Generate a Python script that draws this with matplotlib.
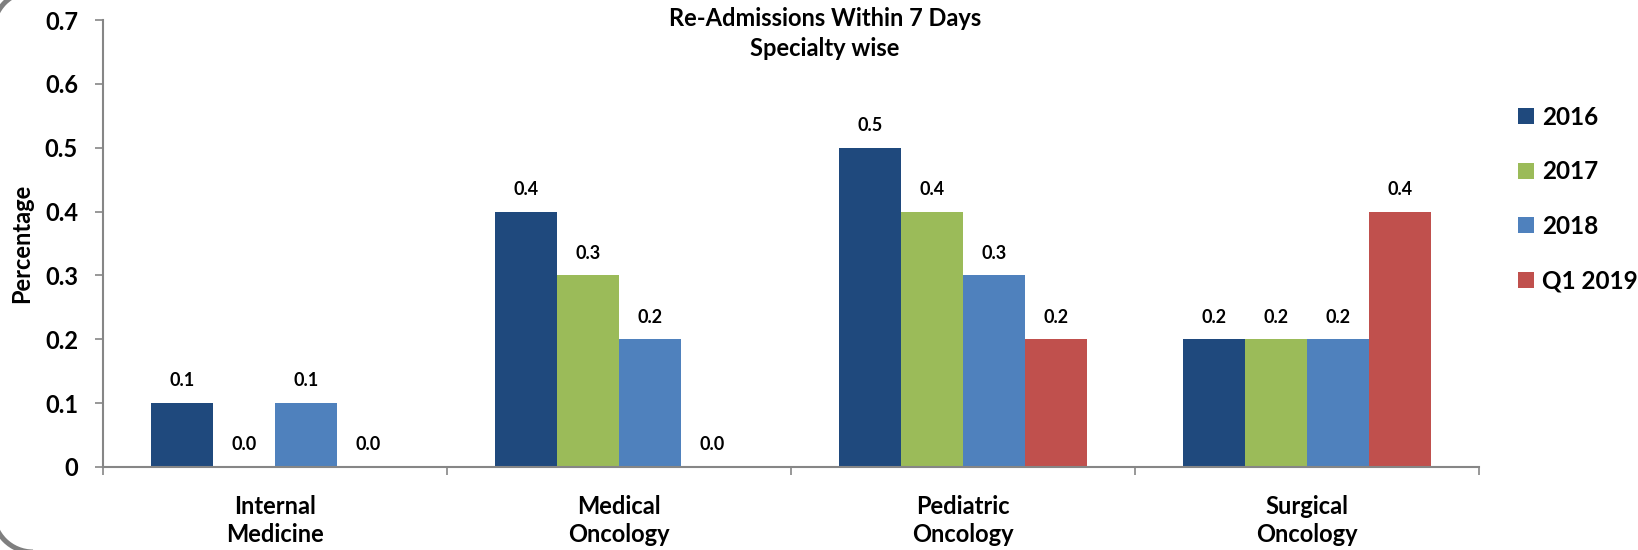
import matplotlib
matplotlib.use("Agg")
import matplotlib.pyplot as plt
import numpy as np
from matplotlib.patches import Arc

plt.rcParams['font.family'] = ['Lato', 'DejaVu Sans']
plt.rcParams['font.weight'] = 'bold'

categories = ["Internal\nMedicine", "Medical\nOncology", "Pediatric\nOncology", "Surgical\nOncology"]
series_names = ["2016", "2017", "2018", "Q1 2019"]
v2016 = [0.1, 0.4, 0.5, 0.2]
v2017 = [0.0, 0.3, 0.4, 0.2]
v2018 = [0.1, 0.2, 0.3, 0.2]
vq12019 = [0.0, 0.0, 0.2, 0.4]
colors = ["#1F497D", "#9BBB59", "#4F81BD", "#C0504D"]
yticks = [0, 0.1, 0.2, 0.3, 0.4, 0.5, 0.6, 0.7]
ytick_labels = ["0", "0.1", "0.2", "0.3", "0.4", "0.5", "0.6", "0.7"]

W, H, DPI = 1638, 550, 100
fig = plt.figure(figsize=(W / DPI, H / DPI), dpi=DPI)

# overlay for the partially visible rounded border (pixel coordinates, y downwards)
bg = fig.add_axes([0, 0, 1, 1], zorder=-1)
bg.set_xlim(0, W)
bg.set_ylim(H, 0)
bg.axis('off')
r = 40
bg.add_patch(Arc((33, 31), 2 * r, 2 * r, theta1=180, theta2=270, color='#7F7F7F', lw=3.6))
bg.add_patch(Arc((33, 512), 2 * r, 2 * r, theta1=90, theta2=180, color='#7F7F7F', lw=3.6))

ax = fig.add_axes([103 / W, 1 - 467 / H, (1479 - 103) / W, (467 - 20) / H])
ax.patch.set_alpha(0)

series = [v2016, v2017, v2018, vq12019]
bw = 62 / 344
x = np.arange(len(categories))
for i, (vals, name, c) in enumerate(zip(series, series_names, colors)):
    pos = x - 2 * bw + (i + 0.5) * bw
    ax.bar(pos, vals, width=bw, color=c, label=name, edgecolor='none')
    for xp, v in zip(pos, vals):
        ax.annotate(f"{v:.1f}", (xp, v), xytext=(0, 16), textcoords='offset points',
                    ha='center', va='center', fontsize=13, fontweight='bold')

ax.set_xlim(-0.5, len(categories) - 0.5)
ax.set_ylim(0, 0.7)
ax.set_yticks(yticks)
ax.set_yticklabels(ytick_labels, fontsize=17, fontweight='bold')
ax.set_xticks(x)
ax.set_xticklabels(categories, fontsize=17, fontweight='bold', linespacing=1.3)
ax.set_xticks(np.arange(-0.5, len(categories)), minor=True)
ax.tick_params(axis='x', which='major', length=0, pad=20)
ax.tick_params(axis='x', which='minor', length=6, width=1.2, color='#868686', direction='out')
ax.tick_params(axis='y', length=6, width=1.2, color='#868686', pad=12)
for s in ['top', 'right']:
    ax.spines[s].set_visible(False)
for s in ['left', 'bottom']:
    ax.spines[s].set_color('#868686')
    ax.spines[s].set_linewidth(1.5)

ax.set_ylabel("Percentage", fontsize=17, fontweight='bold')
ax.yaxis.set_label_coords(-(103 - 33) / (1479 - 103), 0.5)

fig.text(825 / W, 1 - 26 / H, "Re-Admissions Within 7 Days", ha='center', va='baseline',
         fontsize=17, fontweight='bold')
fig.text(825 / W, 1 - 56 / H, "Specialty wise", ha='center', va='baseline',
         fontsize=17, fontweight='bold')

handles, labels = ax.get_legend_handles_labels()
fig.legend(handles, labels, loc='upper left', bbox_to_anchor=(1508 / W, 1 - 96 / H),
           frameon=False, prop={'weight': 'bold', 'size': 17.5},
           handlelength=0.65, handleheight=0.65, handletextpad=0.35, labelspacing=1.3,
           borderaxespad=0)

fig.savefig("out.png", dpi=DPI)
